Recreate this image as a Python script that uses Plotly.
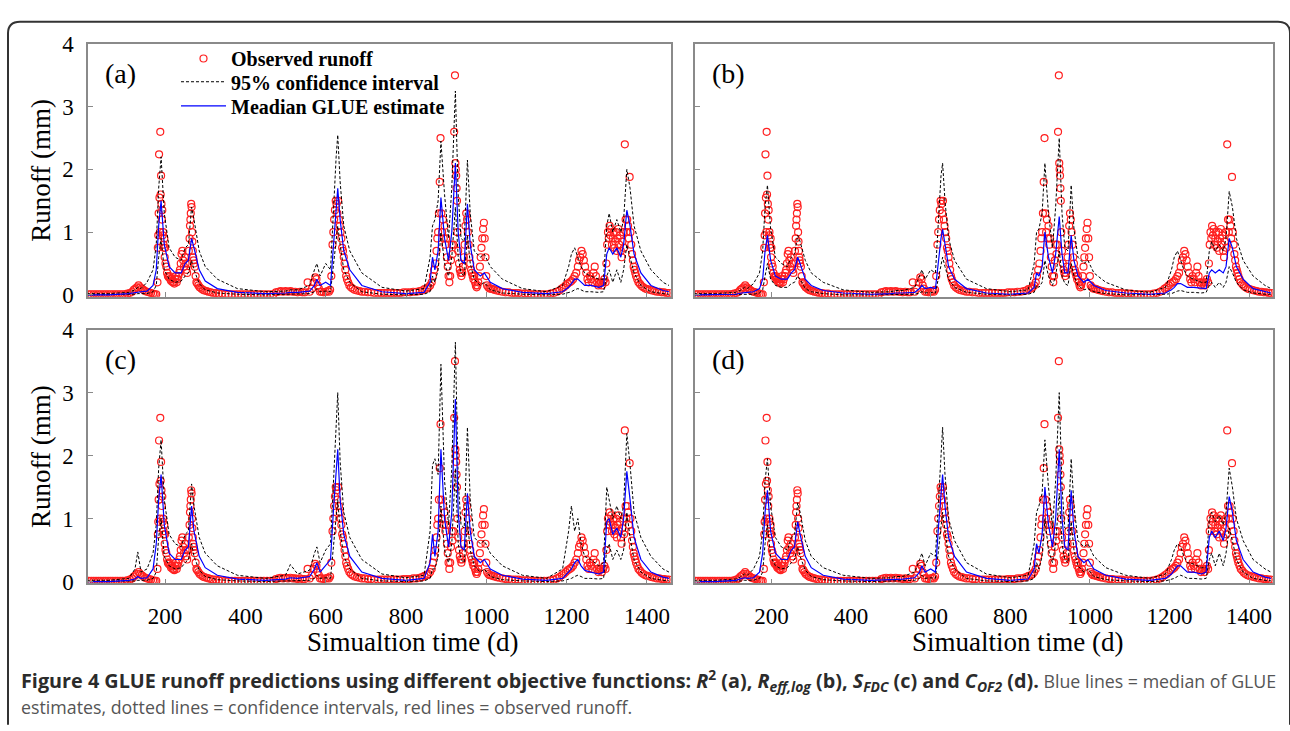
import plotly.graph_objects as go

# ---------------- DATA ----------------
days_grid = [5, 60, 110, 125, 132, 140, 155, 170, 178, 184,
             190, 198, 210, 225, 240, 250, 258, 266, 272, 285,
             300, 330, 380, 450, 500, 512, 530, 560, 572, 578,
             586, 600, 612, 620, 626, 630, 636, 645, 660, 690,
             740, 800, 845, 860, 866, 872, 880, 887, 896, 906,
             914, 923, 930, 937, 945, 953, 960, 970, 985, 995,
             1010, 1040, 1090, 1150, 1190, 1205, 1212, 1220, 1228, 1236,
             1245, 1260, 1280, 1292, 1300, 1306, 1315, 1325, 1335, 1342,
             1350, 1358, 1368, 1385, 1410, 1440, 1455]

median_a = [0.00, 0.00, 0.02, 0.04, 0.05, 0.05, 0.06, 0.15, 0.40, 1.10,
            1.50, 0.80, 0.45, 0.35, 0.35, 0.50, 0.55, 0.90, 0.75, 0.40,
            0.22, 0.10, 0.04, 0.02, 0.03, 0.04, 0.04, 0.06, 0.15, 0.25,
            0.15, 0.20, 0.15, 0.90, 1.40, 1.70, 1.20, 0.70, 0.40, 0.15,
            0.05, 0.02, 0.04, 0.20, 0.60, 0.40, 0.70, 1.55, 0.90, 0.55,
            1.00, 2.10, 1.00, 0.55, 0.50, 1.45, 0.80, 0.40, 0.30, 0.35,
            0.20, 0.10, 0.04, 0.02, 0.05, 0.12, 0.18, 0.25, 0.25, 0.20,
            0.15, 0.15, 0.12, 0.15, 0.65, 0.75, 0.65, 0.75, 0.60, 0.80,
            1.35, 1.10, 0.65, 0.35, 0.15, 0.07, 0.05]
upper_a = [0.02, 0.02, 0.04, 0.08, 0.12, 0.10, 0.20, 0.40, 0.80, 1.70,
           2.20, 1.30, 0.75, 0.60, 0.55, 0.75, 0.80, 1.40, 1.20, 0.70,
           0.45, 0.25, 0.10, 0.05, 0.06, 0.08, 0.08, 0.15, 0.40, 0.50,
           0.30, 0.50, 0.40, 1.50, 2.20, 2.55, 1.80, 1.10, 0.70, 0.35,
           0.12, 0.06, 0.10, 0.60, 1.10, 1.20, 1.50, 2.45, 1.60, 0.90,
           1.70, 3.25, 1.60, 0.90, 0.85, 2.15, 1.30, 0.70, 0.60, 0.65,
           0.45, 0.25, 0.10, 0.05, 0.15, 0.45, 0.65, 0.75, 0.60, 0.45,
           0.35, 0.30, 0.25, 0.25, 1.10, 1.30, 1.00, 1.20, 1.00, 1.20,
           2.00, 1.70, 1.10, 0.70, 0.40, 0.20, 0.15]
lower_a = [0.00, 0.00, 0.00, 0.01, 0.02, 0.02, 0.02, 0.05, 0.15, 0.60,
           0.90, 0.40, 0.25, 0.20, 0.22, 0.30, 0.35, 0.55, 0.40, 0.18,
           0.08, 0.03, 0.01, 0.00, 0.01, 0.01, 0.02, 0.02, 0.05, 0.10,
           0.05, 0.06, 0.05, 0.50, 0.90, 1.10, 0.80, 0.40, 0.20, 0.05,
           0.01, 0.00, 0.01, 0.05, 0.30, 0.20, 0.40, 1.00, 0.50, 0.30,
           0.60, 1.40, 0.60, 0.35, 0.30, 0.95, 0.50, 0.25, 0.15, 0.20,
           0.08, 0.03, 0.01, 0.00, 0.01, 0.03, 0.05, 0.08, 0.10, 0.08,
           0.05, 0.05, 0.04, 0.05, 0.30, 0.40, 0.20, 0.40, 0.20, 0.40,
           0.80, 0.60, 0.35, 0.15, 0.05, 0.02, 0.01]

median_b = [0.00, 0.00, 0.01, 0.03, 0.04, 0.04, 0.05, 0.10, 0.25, 0.70,
            0.95, 0.55, 0.30, 0.25, 0.25, 0.35, 0.40, 0.60, 0.50, 0.25,
            0.15, 0.07, 0.03, 0.01, 0.02, 0.03, 0.03, 0.04, 0.10, 0.15,
            0.10, 0.12, 0.10, 0.60, 0.90, 1.05, 0.80, 0.45, 0.25, 0.10,
            0.03, 0.01, 0.03, 0.12, 0.35, 0.30, 0.45, 1.00, 0.60, 0.35,
            0.65, 1.25, 0.65, 0.35, 0.35, 0.95, 0.55, 0.30, 0.20, 0.25,
            0.15, 0.07, 0.03, 0.01, 0.03, 0.08, 0.12, 0.18, 0.18, 0.15,
            0.12, 0.12, 0.10, 0.10, 0.35, 0.40, 0.35, 0.40, 0.35, 0.45,
            0.90, 0.75, 0.45, 0.25, 0.10, 0.05, 0.03]
upper_b = [0.02, 0.02, 0.04, 0.08, 0.12, 0.10, 0.18, 0.35, 0.70, 1.40,
           1.75, 1.05, 0.60, 0.50, 0.45, 0.60, 0.65, 0.95, 0.85, 0.55,
           0.35, 0.20, 0.08, 0.04, 0.05, 0.07, 0.07, 0.12, 0.30, 0.40,
           0.25, 0.40, 0.35, 1.30, 1.90, 2.10, 1.50, 0.90, 0.55, 0.25,
           0.10, 0.05, 0.08, 0.50, 1.00, 1.05, 1.30, 2.10, 1.30, 0.75,
           1.40, 2.50, 1.30, 0.75, 0.70, 1.75, 1.05, 0.60, 0.50, 0.55,
           0.35, 0.20, 0.08, 0.04, 0.12, 0.40, 0.60, 0.70, 0.55, 0.40,
           0.30, 0.25, 0.20, 0.20, 0.70, 0.85, 0.70, 0.80, 0.70, 0.90,
           1.65, 1.40, 0.90, 0.55, 0.30, 0.15, 0.10]
lower_b = [0.00, 0.00, 0.00, 0.01, 0.01, 0.01, 0.01, 0.03, 0.08, 0.30,
           0.50, 0.25, 0.15, 0.12, 0.12, 0.18, 0.20, 0.30, 0.25, 0.10,
           0.05, 0.02, 0.00, 0.00, 0.00, 0.01, 0.01, 0.01, 0.03, 0.05,
           0.03, 0.04, 0.03, 0.30, 0.50, 0.60, 0.45, 0.25, 0.12, 0.04,
           0.01, 0.00, 0.01, 0.04, 0.15, 0.12, 0.20, 0.55, 0.30, 0.15,
           0.30, 0.70, 0.30, 0.18, 0.15, 0.50, 0.30, 0.15, 0.08, 0.10,
           0.05, 0.02, 0.00, 0.00, 0.01, 0.02, 0.04, 0.06, 0.07, 0.05,
           0.04, 0.04, 0.03, 0.04, 0.15, 0.20, 0.12, 0.20, 0.12, 0.20,
           0.45, 0.35, 0.20, 0.08, 0.03, 0.01, 0.01]

median_c = [0.00, 0.00, 0.02, 0.04, 0.08, 0.05, 0.06, 0.20, 0.60, 1.30,
            1.70, 0.90, 0.45, 0.35, 0.35, 0.50, 0.55, 1.20, 0.80, 0.40,
            0.22, 0.10, 0.04, 0.02, 0.04, 0.06, 0.05, 0.08, 0.20, 0.30,
            0.15, 0.25, 0.35, 1.20, 1.70, 2.10, 1.30, 0.75, 0.40, 0.15,
            0.05, 0.02, 0.05, 0.30, 0.75, 0.40, 0.80, 2.10, 1.00, 0.55,
            1.10, 2.90, 1.10, 0.55, 0.50, 1.40, 0.80, 0.40, 0.30, 0.35,
            0.20, 0.10, 0.04, 0.02, 0.05, 0.15, 0.20, 0.30, 0.35, 0.25,
            0.18, 0.15, 0.12, 0.15, 0.95, 1.00, 0.75, 0.85, 0.70, 1.00,
            1.75, 1.30, 0.70, 0.35, 0.15, 0.07, 0.05]
upper_c = [0.02, 0.02, 0.05, 0.20, 0.47, 0.15, 0.20, 0.45, 0.90, 1.80,
           2.25, 1.30, 0.75, 0.60, 0.55, 0.75, 0.80, 1.55, 1.20, 0.70,
           0.45, 0.25, 0.10, 0.05, 0.10, 0.27, 0.12, 0.18, 0.45, 0.55,
           0.30, 0.50, 0.60, 1.65, 2.40, 3.00, 1.90, 1.10, 0.70, 0.35,
           0.12, 0.06, 0.10, 0.80, 1.85, 1.95, 1.70, 3.45, 1.60, 0.90,
           1.80, 3.80, 1.60, 0.90, 0.85, 2.45, 1.30, 0.70, 0.60, 0.65,
           0.45, 0.25, 0.10, 0.05, 0.20, 0.80, 1.20, 0.80, 1.00, 0.60,
           0.40, 0.35, 0.25, 0.30, 1.50, 1.30, 1.00, 1.20, 1.00, 1.20,
           2.35, 1.85, 1.10, 0.70, 0.40, 0.20, 0.15]
lower_c = [0.00, 0.00, 0.00, 0.01, 0.02, 0.02, 0.02, 0.05, 0.15, 0.70,
           1.00, 0.40, 0.25, 0.20, 0.22, 0.30, 0.35, 0.60, 0.40, 0.18,
           0.08, 0.03, 0.01, 0.00, 0.01, 0.01, 0.02, 0.02, 0.05, 0.10,
           0.05, 0.06, 0.05, 0.60, 1.00, 1.30, 0.80, 0.40, 0.20, 0.05,
           0.01, 0.00, 0.01, 0.05, 0.20, 0.20, 0.40, 1.20, 0.50, 0.30,
           0.60, 1.80, 0.60, 0.35, 0.30, 0.95, 0.50, 0.25, 0.15, 0.20,
           0.08, 0.03, 0.01, 0.00, 0.01, 0.03, 0.05, 0.08, 0.10, 0.08,
           0.05, 0.05, 0.04, 0.05, 0.50, 0.60, 0.35, 0.50, 0.35, 0.50,
           1.10, 0.70, 0.35, 0.15, 0.05, 0.02, 0.01]

median_d = [0.00, 0.00, 0.02, 0.04, 0.06, 0.05, 0.06, 0.15, 0.45, 1.10,
            1.45, 0.80, 0.45, 0.35, 0.35, 0.50, 0.55, 0.95, 0.75, 0.40,
            0.22, 0.10, 0.04, 0.02, 0.03, 0.04, 0.04, 0.06, 0.15, 0.25,
            0.15, 0.20, 0.15, 0.90, 1.40, 1.70, 1.20, 0.70, 0.40, 0.15,
            0.05, 0.02, 0.04, 0.20, 0.60, 0.45, 0.75, 1.50, 0.90, 0.55,
            1.00, 2.10, 1.00, 0.55, 0.50, 1.45, 0.80, 0.40, 0.30, 0.35,
            0.20, 0.10, 0.04, 0.02, 0.05, 0.12, 0.18, 0.25, 0.25, 0.20,
            0.15, 0.15, 0.12, 0.15, 0.70, 0.80, 0.70, 0.80, 0.65, 0.85,
            1.35, 1.10, 0.65, 0.35, 0.15, 0.07, 0.05]
upper_d = [0.02, 0.02, 0.04, 0.08, 0.12, 0.10, 0.20, 0.40, 0.80, 1.60,
           1.95, 1.20, 0.70, 0.55, 0.50, 0.70, 0.75, 1.25, 1.10, 0.65,
           0.40, 0.22, 0.10, 0.05, 0.06, 0.08, 0.08, 0.15, 0.35, 0.45,
           0.25, 0.45, 0.40, 1.40, 2.00, 2.45, 1.70, 1.00, 0.65, 0.30,
           0.12, 0.06, 0.10, 0.60, 1.10, 1.20, 1.40, 2.25, 1.50, 0.85,
           1.60, 3.00, 1.50, 0.85, 0.80, 1.95, 1.20, 0.65, 0.55, 0.60,
           0.40, 0.22, 0.10, 0.05, 0.12, 0.35, 0.50, 0.60, 0.55, 0.40,
           0.30, 0.28, 0.22, 0.22, 1.00, 1.10, 0.95, 1.05, 0.90, 1.10,
           1.80, 1.50, 1.00, 0.65, 0.35, 0.20, 0.15]
lower_d = [0.00, 0.00, 0.00, 0.01, 0.02, 0.02, 0.02, 0.05, 0.15, 0.60,
           0.90, 0.40, 0.25, 0.20, 0.22, 0.30, 0.35, 0.55, 0.40, 0.18,
           0.08, 0.03, 0.01, 0.00, 0.01, 0.01, 0.02, 0.02, 0.05, 0.10,
           0.05, 0.06, 0.05, 0.50, 0.90, 1.10, 0.80, 0.40, 0.20, 0.05,
           0.01, 0.00, 0.01, 0.05, 0.30, 0.20, 0.40, 1.00, 0.50, 0.30,
           0.60, 1.40, 0.60, 0.35, 0.30, 0.95, 0.50, 0.25, 0.15, 0.20,
           0.08, 0.03, 0.01, 0.00, 0.01, 0.03, 0.05, 0.08, 0.10, 0.08,
           0.05, 0.05, 0.04, 0.05, 0.35, 0.45, 0.25, 0.45, 0.25, 0.45,
           0.85, 0.65, 0.35, 0.15, 0.05, 0.02, 0.01]

# observed runoff (day, mm)
observed_points = [
    (10, 0.01), (16, 0.01), (22, 0.01), (28, 0.01), (34, 0.01), (40, 0.01), (46, 0.01),
    (52, 0.01), (58, 0.01), (64, 0.01), (70, 0.01), (76, 0.01), (82, 0.01), (88, 0.01),
    (94, 0.01), (100, 0.01), (106, 0.02),
    (112, 0.03), (118, 0.05), (122, 0.08), (126, 0.10), (130, 0.12), (134, 0.15), (138, 0.12),
    (142, 0.10), (146, 0.08), (150, 0.06), (155, 0.05), (160, 0.04), (165, 0.03), (170, 0.02),
    (174, 0.01), (178, 0.01),
    (181, 0.20), (182, 0.75), (183, 0.95), (184, 1.30), (185, 2.24), (186, 1.55), (187, 1.00),
    (188, 2.60), (189, 1.60), (190, 1.90), (191, 1.45), (192, 1.20), (193, 1.35), (194, 0.95),
    (195, 1.00), (196, 0.80), (197, 0.75), (198, 0.90), (199, 0.60), (200, 0.75), (201, 0.50),
    (203, 0.45), (205, 0.35), (207, 0.30), (209, 0.28), (211, 0.30), (213, 0.25), (215, 0.22),
    (217, 0.25), (219, 0.20), (221, 0.20), (223, 0.18), (225, 0.25), (227, 0.30), (229, 0.20),
    (231, 0.25), (233, 0.30), (235, 0.35), (237, 0.40), (239, 0.50), (241, 0.65), (243, 0.70),
    (245, 0.55), (247, 0.45), (249, 0.60), (251, 0.50), (253, 0.40), (255, 0.35), (257, 0.50),
    (259, 0.70), (261, 0.90), (262, 1.10), (263, 1.20), (264, 1.30), (265, 1.45), (266, 1.40),
    (267, 1.00), (268, 0.85), (269, 0.70), (270, 0.60), (271, 0.55), (272, 0.50), (274, 0.45),
    (276, 0.30), (278, 0.20), (280, 0.18), (283, 0.15), (286, 0.12), (290, 0.10), (294, 0.08),
    (298, 0.07), (303, 0.06), (308, 0.05), (314, 0.04), (320, 0.03), (327, 0.03), (334, 0.02),
    (342, 0.02),
    (350, 0.01), (358, 0.01), (366, 0.01), (374, 0.01), (382, 0.01), (390, 0.01), (398, 0.01),
    (406, 0.01), (414, 0.01), (422, 0.01), (430, 0.01), (438, 0.01), (446, 0.01), (454, 0.01),
    (462, 0.01), (470, 0.01),
    (476, 0.04), (482, 0.05), (488, 0.06), (494, 0.05), (500, 0.06), (506, 0.05), (512, 0.06),
    (518, 0.05), (524, 0.05), (530, 0.04), (536, 0.05), (542, 0.04), (548, 0.04), (555, 0.20),
    (560, 0.05), (566, 0.10), (570, 0.20), (574, 0.28), (577, 0.25), (580, 0.15), (583, 0.10),
    (586, 0.05), (590, 0.05), (595, 0.04), (600, 0.05), (605, 0.06), (608, 0.05), (611, 0.08),
    (614, 0.30), (617, 0.80), (619, 1.00), (621, 1.20), (623, 1.35), (625, 1.50), (627, 1.45),
    (629, 1.30), (631, 1.50), (633, 1.20), (635, 1.10), (637, 1.00), (639, 0.90), (641, 0.75),
    (643, 0.70), (645, 0.60), (647, 0.50), (649, 0.40), (651, 0.30), (653, 0.25), (656, 0.20),
    (659, 0.15), (663, 0.12), (667, 0.10), (672, 0.08), (678, 0.07), (684, 0.06), (690, 0.05),
    (697, 0.05), (705, 0.04), (713, 0.04), (721, 0.03), (730, 0.03), (738, 0.03), (746, 0.03),
    (754, 0.03), (762, 0.03), (770, 0.03), (778, 0.03), (786, 0.03), (794, 0.04), (802, 0.04),
    (810, 0.04), (818, 0.05), (826, 0.05), (834, 0.06), (840, 0.07), (846, 0.09), (852, 0.10),
    (856, 0.12), (860, 0.15), (864, 0.20), (867, 0.30), (870, 0.40), (873, 0.50), (876, 0.70),
    (878, 0.90), (880, 1.00), (882, 1.30), (884, 1.80), (886, 2.50), (888, 1.30), (890, 1.00),
    (892, 1.20), (894, 0.90), (896, 1.10), (898, 0.80), (900, 0.90), (902, 0.60), (904, 0.45),
    (906, 0.30), (908, 0.20), (910, 0.30), (912, 0.55), (914, 0.80), (916, 0.65), (918, 0.80),
    (920, 2.60), (922, 3.50), (923, 2.10), (924, 2.00), (925, 1.90), (926, 1.70), (927, 1.50),
    (928, 1.00), (930, 0.70), (932, 0.50), (934, 0.40), (936, 0.35), (938, 0.30), (940, 0.35),
    (942, 0.45), (944, 0.60), (946, 0.80), (948, 1.10), (950, 1.30), (952, 1.20), (954, 1.00),
    (956, 0.80), (958, 0.60), (960, 0.50), (962, 0.40), (964, 0.35), (966, 0.30), (968, 0.25),
    (970, 0.30), (972, 0.20), (974, 0.15), (976, 0.12), (978, 0.15), (980, 0.20), (982, 0.30),
    (984, 0.45), (986, 0.60), (988, 0.75), (990, 0.90), (992, 1.05), (994, 1.15), (996, 0.90),
    (998, 0.60), (1000, 0.30), (1002, 0.15), (1005, 0.12), (1008, 0.10), (1012, 0.10),
    (1016, 0.09), (1020, 0.08), (1026, 0.07), (1032, 0.06), (1040, 0.05), (1048, 0.04),
    (1056, 0.04), (1064, 0.03), (1072, 0.03), (1080, 0.03), (1088, 0.02), (1096, 0.02),
    (1104, 0.02), (1112, 0.01), (1120, 0.01), (1128, 0.01), (1136, 0.01), (1144, 0.01),
    (1152, 0.01), (1160, 0.02), (1168, 0.03), (1176, 0.05), (1182, 0.07), (1188, 0.10),
    (1193, 0.12), (1198, 0.15), (1203, 0.18), (1208, 0.20), (1212, 0.22), (1216, 0.25),
    (1220, 0.30), (1224, 0.35), (1228, 0.45), (1231, 0.55), (1234, 0.60), (1237, 0.70),
    (1240, 0.65), (1243, 0.55), (1246, 0.45), (1249, 0.35), (1252, 0.25), (1255, 0.20),
    (1258, 0.30), (1261, 0.25), (1264, 0.20), (1267, 0.35), (1270, 0.45), (1273, 0.30),
    (1276, 0.20), (1279, 0.15), (1282, 0.18), (1285, 0.20), (1288, 0.15), (1291, 0.20),
    (1294, 0.25), (1297, 0.20), (1299, 0.50), (1301, 0.80), (1303, 1.00), (1305, 0.90),
    (1307, 1.10), (1309, 0.95), (1311, 1.05), (1313, 0.80), (1315, 0.90), (1317, 1.00),
    (1319, 0.75), (1321, 0.85), (1323, 1.00), (1325, 0.70), (1327, 0.90), (1329, 1.05),
    (1331, 0.80), (1333, 0.95), (1335, 0.70), (1337, 0.60), (1339, 0.85), (1341, 1.00),
    (1343, 0.75), (1345, 2.40), (1347, 1.20), (1349, 1.00), (1351, 1.20), (1353, 1.10),
    (1355, 0.90), (1357, 1.88), (1359, 1.00), (1361, 0.80), (1363, 0.65), (1365, 0.55),
    (1367, 0.45), (1369, 0.40), (1371, 0.35), (1373, 0.30), (1376, 0.25), (1379, 0.20),
    (1383, 0.17), (1387, 0.14), (1391, 0.12), (1396, 0.10), (1401, 0.09), (1407, 0.08),
    (1413, 0.07), (1419, 0.06), (1425, 0.05), (1431, 0.05), (1437, 0.04), (1443, 0.04),
    (1449, 0.03), (1455, 0.03),
]
obs_day = [p[0] for p in observed_points]
obs_runoff = [p[1] for p in observed_points]

panel_labels = ["(a)", "(b)", "(c)", "(d)"]
panel_series = [(median_a, upper_a, lower_a), (median_b, upper_b, lower_b),
                (median_c, upper_c, lower_c), (median_d, upper_d, lower_d)]
x_tick_values = [200, 400, 600, 800, 1000, 1200, 1400]
y_tick_values = [0, 1, 2, 3, 4]
legend_names = ["Observed runoff", "95% confidence interval", "Meadian GLUE estimate"]
y_title = "Runoff (mm)"
x_title = "Simualtion time (d)"
caption_bold = ("Figure 4 GLUE runoff predictions using different objective functions: "
                "<i>R</i><sup>2</sup> (a), <i>R</i><sub><i>eff,log</i></sub> (b), "
                "<i>S</i><sub><i>FDC</i></sub> (c) and <i>C</i><sub><i>OF2</i></sub> (d).")
caption_rest_1 = " Blue lines = median of GLUE"
caption_rest_2 = "estimates, dotted lines = confidence intervals, red lines = observed runoff."

# ---------------- LAYOUT HELPERS ----------------
W, H = 1290, 731
def fx(px):
    return px / W
def fy(py):
    return 1 - py / H

SERIF = "Liberation Serif, Times New Roman, serif"
CAPFONT = "Open Sans, sans-serif"

# plot areas in pixels: (left, right, top, bottom)
boxes = [(88, 671, 33, 294), (695, 1273, 33, 294), (88, 671, 328, 590), (695, 1273, 328, 590)]
legend_keys = ["legend", "legend2", "legend3"]

fig = go.Figure()
for i, (med, up, lo) in enumerate(panel_series):
    n = "" if i == 0 else str(i + 1)
    xa, ya = "x" + n, "y" + n
    first = i == 0
    fig.add_trace(go.Scatter(x=obs_day, y=obs_runoff, mode="markers", xaxis=xa, yaxis=ya,
                             name=legend_names[0], showlegend=first, legend=legend_keys[0],
                             legendgroup="obs",
                             marker=dict(symbol="circle-open", size=7, color="#ff2020",
                                         line=dict(width=1.2, color="#ff2020"))))
    fig.add_trace(go.Scatter(x=days_grid, y=up, mode="lines", xaxis=xa, yaxis=ya,
                             name=legend_names[1], showlegend=first, legend=legend_keys[1],
                             legendgroup="ci",
                             line=dict(color="black", width=1, dash="3px,2px")))
    fig.add_trace(go.Scatter(x=days_grid, y=lo, mode="lines", xaxis=xa, yaxis=ya,
                             name=legend_names[1], showlegend=False, legend=legend_keys[1],
                             legendgroup="ci",
                             line=dict(color="black", width=1, dash="3px,2px")))
    fig.add_trace(go.Scatter(x=days_grid, y=med, mode="lines", xaxis=xa, yaxis=ya,
                             name=legend_names[2], showlegend=first, legend=legend_keys[2],
                             legendgroup="med",
                             line=dict(color="#0000ff", width=1.2)))

axis_common = dict(showline=True, linecolor="#8a8a8a", linewidth=1.5, mirror=True,
                   ticks="inside", ticklen=5, tickcolor="#8a8a8a", tickwidth=1,
                   showgrid=False, zeroline=False,
                   tickfont=dict(family=SERIF, size=23, color="black"))
layout_axes = {}
for i, (l, r, t, b) in enumerate(boxes):
    n = "" if i == 0 else str(i + 1)
    bottom_row = i >= 2
    left_col = i in (0, 2)
    layout_axes["xaxis" + n] = dict(
        axis_common, domain=[fx(l), fx(r)], anchor="y" + n, range=[8, 1460],
        tickvals=x_tick_values, showticklabels=bottom_row, ticklabelstandoff=11)
    layout_axes["yaxis" + n] = dict(
        axis_common, domain=[fy(b), fy(t)], anchor="x" + n, range=[-0.03, 4.0],
        tickvals=y_tick_values, showticklabels=left_col, ticklabelstandoff=8,
        title=dict(text=y_title if left_col else "", standoff=4,
                   font=dict(family=SERIF, size=27, color="black")))

annotations = []
for i, (l, r, t, b) in enumerate(boxes):
    annotations.append(dict(text=panel_labels[i], x=fx(l + 15), y=fy(t + 31), xref="paper", yref="paper",
                            xanchor="left", yanchor="middle", showarrow=False,
                            font=dict(family=SERIF, size=28, color="black")))
# x-axis titles (slightly right of panel centre, as in the original)
for cx in (412, 1017):
    annotations.append(dict(text=x_title, x=fx(cx), y=fy(650), xref="paper", yref="paper",
                            xanchor="center", yanchor="middle", showarrow=False,
                            font=dict(family=SERIF, size=27, color="black")))

annotations.append(dict(
    text=("<b>" + caption_bold + "</b><span style='color:#555555;font-size:17.8px'>" +
          caption_rest_1 + "</span>"),
    x=fx(19), y=fy(690), xref="paper", yref="paper", xanchor="left", yanchor="middle",
    align="left", showarrow=False, font=dict(family=CAPFONT, size=19.8, color="#2b2b2b")))
annotations.append(dict(
    text=caption_rest_2,
    x=fx(19), y=fy(718), xref="paper", yref="paper", xanchor="left", yanchor="middle",
    align="left", showarrow=False, font=dict(family=CAPFONT, size=17.8, color="#555555")))

r0 = 12
border_path = (f"M {fx(8)} {fy(H + 5)} L {fx(8)} {fy(10 + r0)} "
               f"Q {fx(8)} {fy(10)} {fx(8 + r0)} {fy(10)} "
               f"L {fx(1290 - r0)} {fy(10)} Q {fx(1290)} {fy(10)} {fx(1290)} {fy(10 + r0)} "
               f"L {fx(1290)} {fy(H + 5)}")
shapes = [dict(type="path", path=border_path, xref="paper", yref="paper",
               line=dict(color="#333333", width=2))]

legend_style = dict(x=fx(176), xanchor="left", yanchor="middle",
                    bgcolor="rgba(0,0,0,0)", borderwidth=0, itemwidth=45,
                    font=dict(family=SERIF, size=20, color="black", weight="bold"))

fig.update_layout(
    width=W, height=H, margin=dict(l=0, r=0, t=0, b=0),
    paper_bgcolor="white", plot_bgcolor="white",
    showlegend=True,
    legend=dict(legend_style, y=fy(48)),
    legend2=dict(legend_style, y=fy(72)),
    legend3=dict(legend_style, y=fy(97)),
    annotations=annotations, shapes=shapes,
    **layout_axes,
)

fig.write_html("out.html", config={"displayModeBar": False},
               post_script="document.body.style.margin='0';document.body.style.overflow='hidden';")
